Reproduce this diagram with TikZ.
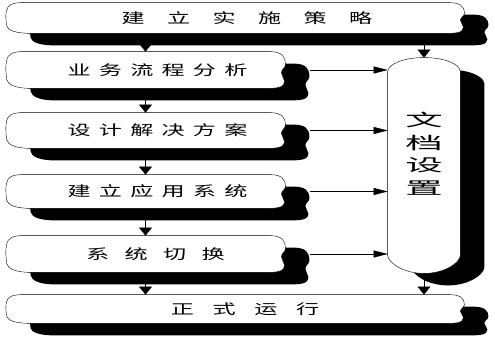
\documentclass[tikz,border=0pt]{standalone}
\usepackage{fontspec}
\newfontfamily\cjk[FakeStretch=1.65]{Noto Sans CJK SC}
\newfontfamily\cjkwide[FakeStretch=2.2]{Noto Sans CJK SC}
\usetikzlibrary{calc,arrows.meta,backgrounds}

\begin{document}
\begin{tikzpicture}[x=1pt, y=-1pt, line width=0.8pt,
    every node/.style={rectangle, inner sep=0pt, font=\cjk\fontsize{14}{16}\selectfont},
    drop/.store in=\drop, drop={0pt,0pt},
    banner/.style={insert path={let \p1=([shift={(\drop)}]#1.north west), \p2=([shift={(\drop)}]#1.south east), \n1={\y1-\y2} in
        (\x1+18pt,\y1) -- (\x2-16pt,\y1)
        .. controls (\x2-4pt,\y1) and (\x2,\y1-0.12*\n1) .. (\x2,\y1-0.35*\n1)
        .. controls (\x2,\y1-0.45*\n1) and (\x2-4pt,\y1-0.47*\n1) .. (\x2-4pt,\y1-0.58*\n1)
        .. controls (\x2-4pt,\y1-0.68*\n1) and (\x2-1pt,\y1-0.7*\n1) .. (\x2-1pt,\y1-0.8*\n1)
        .. controls (\x2-1pt,\y2) and (\x2-10pt,\y2) .. (\x2-22pt,\y2)
        -- (\x1+26pt,\y2)
        .. controls (\x1+10pt,\y2) and (\x1+2pt,\y2+0.1*\n1) .. (\x1+1pt,\y2+0.25*\n1)
        .. controls (\x1,\y2+0.5*\n1) and (\x1,\y1-0.35*\n1) .. (\x1+1pt,\y1-0.25*\n1)
        .. controls (\x1+2pt,\y1-0.05*\n1) and (\x1+8pt,\y1) .. (\x1+18pt,\y1) -- cycle}},
    drum/.style={insert path={let \p1=([shift={(\drop)}]#1.north west), \p2=([shift={(\drop)}]#1.south east), \p3=([shift={(\drop)}]#1.center) in
        (\x1,\y1-14pt) .. controls (\x1+1pt,\y1-6pt) and (\x3-20pt,\y1) .. (\x3,\y1)
        .. controls (\x3+20pt,\y1) and (\x2-1pt,\y1-6pt) .. (\x2,\y1-14pt)
        -- (\x2,\y2+18pt) .. controls (\x2-1pt,\y2+10pt) and (\x3+20pt,\y2) .. (\x3,\y2)
        .. controls (\x3-20pt,\y2) and (\x1+1pt,\y2+10pt) .. (\x1,\y2+18pt) -- cycle}},
    down/.style={-{Triangle[width=13pt,length=8pt]}},
    across/.style={-{Triangle[width=7pt,length=14pt]}}]
    \useasboundingbox (0,0) rectangle (495,340);
    % steps
    \node[minimum width=458, minimum height=30] (strategy) at (235,18) {\hspace*{24pt}\addfontfeatures{LetterSpace=160}建立实施策略};
    \node[minimum width=279, minimum height=36] (analysis) at (145.5,70) {\hspace*{24pt}\addfontfeatures{LetterSpace=59}业务流程分析};
    \node[minimum width=279, minimum height=35] (design) at (145.5,130.5) {\hspace*{24pt}\addfontfeatures{LetterSpace=59}设计解决方案};
    \node[minimum width=279, minimum height=33] (build) at (145.5,191.5) {\hspace*{24pt}\addfontfeatures{LetterSpace=59}建立应用系统};
    \node[minimum width=279, minimum height=36] (switch) at (145.5,254) {\hspace*{20pt}\addfontfeatures{LetterSpace=110}系统切换};
    \node[minimum width=458, minimum height=28] (run) at (235,309) {\hspace*{20pt}\addfontfeatures{LetterSpace=133}正式运行};
    \node[minimum width=72, minimum height=215, align=center, text depth=24pt,
        font=\cjkwide\fontsize{17}{22.5}\selectfont] (docs) at (424,165.5) {文\\档\\设\\置};
    % shapes and shadows
    \begin{pgfonlayer}{background}
        \begin{scope}[drop={24pt,-12pt}]
            \foreach \s in {strategy,analysis,design,build,switch,run}
                \fill[banner=\s];
            \fill[drum=docs];
        \end{scope}
        \foreach \s in {strategy,analysis,design,build,switch,run}
            \draw[fill=white, banner=\s];
        \draw[fill=white, drum=docs];
    \end{pgfonlayer}
    % flow
    \draw[down] ([yshift=-12pt]strategy.south -| analysis.north) -- (analysis.north);
    \draw[down] ([yshift=-12pt]analysis.south) -- (design.north);
    \draw[down] ([yshift=-12pt]design.south) -- (build.north);
    \draw[down] ([yshift=-12pt]build.south) -- (switch.north);
    \draw[down] ([yshift=-12pt]switch.south) -- (switch.south |- run.north);
    \draw[down] ([yshift=-12pt]strategy.south -| docs.north) -- (docs.north);
    \draw[down] (docs.south) -- (docs.south |- run.north);
    \foreach \s in {analysis,design,build,switch}
        \draw[across] ([xshift=25pt]\s.east) -- (docs.west |- \s.east);
\end{tikzpicture}
\end{document}
